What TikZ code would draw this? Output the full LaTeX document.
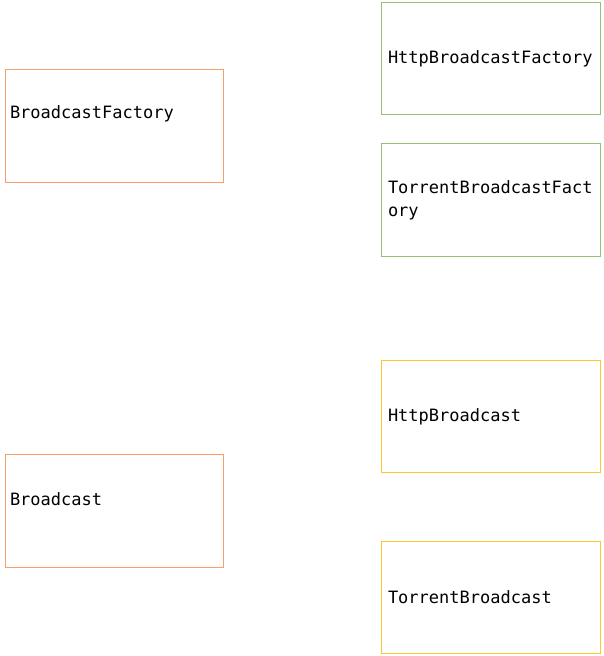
\documentclass[tikz,border=0pt]{standalone}
\usepackage{fontspec}
\setmonofont{DejaVu Sans Mono}
\usetikzlibrary{positioning}
\definecolor{boxorange}{HTML}{F4A06A}
\definecolor{boxgreen}{HTML}{92C27A}
\definecolor{boxyellow}{HTML}{FFC630}
\tikzset{
	cls/.style={rectangle,line width=1.4pt,minimum height=112pt,
		text width=206pt,align=left,inner xsep=6pt,
		font=\ttfamily\fontsize{17}{23}\selectfont},
	lbl/.style={anchor=west,inner sep=0pt,font=\ttfamily\fontsize{17}{23}\selectfont}
}

\begin{document}
\begin{tikzpicture}[x=1pt,y=1pt]
			\useasboundingbox (0,0) rectangle (603,-656);
			% left side
			\node[cls,draw=boxorange,minimum width=218pt,minimum height=113pt] (bf) at (114.5,-126) {};
			\node[lbl] (bftext) at ([shift={(5,12)}]bf.west) {BroadcastFactory};
			\node[cls,draw=boxorange,minimum width=218pt,minimum height=113pt] (b) at (114.5,-511) {};
			\node[lbl] (btext) at ([shift={(5,12)}]b.west) {Broadcast};
			% right side
			\node[cls,draw=boxgreen,minimum width=219pt] (hbf) at (491,-58.5) {HttpBroadcastFactory};
			\node[cls,draw=boxgreen,minimum width=219pt,minimum height=113pt] (tbf) at (491,-200) {TorrentBroadcastFact\\ory};
			\node[cls,draw=boxyellow,minimum width=219pt] (hb) at (491,-416.5) {HttpBroadcast};
			\node[cls,draw=boxyellow,minimum width=219pt] (tb) at (491,-597.5) {TorrentBroadcast};
		\end{tikzpicture}
\end{document}
